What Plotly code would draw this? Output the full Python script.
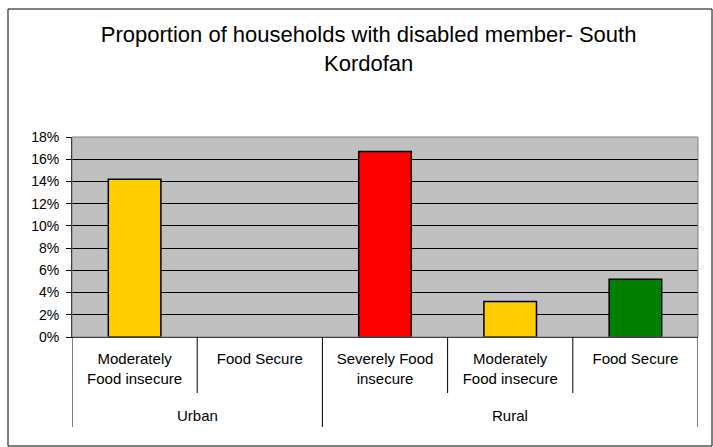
import plotly.graph_objects as go

# Survey results: share of households with a disabled member
areas = ["Urban", "Urban", "Rural", "Rural", "Rural"]
food_status = [
    "Moderately<br>Food insecure",
    "Food Secure",
    "Severely Food<br>insecure",
    "Moderately<br>Food insecure",
    "Food Secure",
]
share_disabled = [0.142, None, 0.167, 0.032, 0.052]
bar_colors = ["#FFCC00", "#FFCC00", "#FF0000", "#FFCC00", "#008000"]
y_ticks = [0, 0.02, 0.04, 0.06, 0.08, 0.10, 0.12, 0.14, 0.16, 0.18]
title_text = "Proportion of households with disabled member- South<br>Kordofan"

FONT = "Liberation Sans, Arial, sans-serif"
positions = list(range(len(food_status)))

fig = go.Figure(
    go.Bar(
        x=positions,
        y=share_disabled,
        marker=dict(color=bar_colors, line=dict(color="#000000", width=1.5)),
        width=0.42,
    )
)

fig.update_layout(
    width=713,
    height=447,
    margin=dict(l=72, r=15, t=137, b=110),
    paper_bgcolor="#FFFFFF",
    plot_bgcolor="#C0C0C0",
    showlegend=False,
    font=dict(family=FONT, size=14, color="#000000"),
    title=dict(
        text=title_text,
        font=dict(family=FONT, size=22, color="#000000"),
        x=0.517, xanchor="center",
        y=0.905, yanchor="top",
    ),
)

fig.update_yaxes(
    range=[0, 0.18],
    tickvals=y_ticks,
    tickformat=".0%",
    showgrid=True,
    gridcolor="#000000",
    gridwidth=1,
    showline=True,
    linecolor="#000000",
    linewidth=1,
    ticks="outside",
    ticklen=5,
    tickcolor="#000000",
    ticklabelstandoff=4,
    tickfont=dict(size=14),
    zeroline=False,
    fixedrange=True,
)

fig.update_xaxes(
    range=[-0.5, len(food_status) - 0.5],
    tickvals=positions,
    ticktext=food_status,
    tickfont=dict(size=15),
    ticks="",
    ticklabelstandoff=8,
    showline=True,
    linecolor="#000000",
    linewidth=1,
    showgrid=False,
    zeroline=False,
    fixedrange=True,
)

# grey frame around the plotting area
fig.add_shape(
    type="rect", xref="paper", yref="paper", x0=0, x1=1, y0=0, y1=1,
    line=dict(color="#808080", width=1), layer="above",
)

# category dividers below the axis: short between items, long at group edges
n = len(areas)
for b in range(n + 1):
    edge = b == 0 or b == n or areas[b - 1] != areas[b]
    fig.add_shape(
        type="line", xref="x", yref="paper",
        x0=b - 0.5, x1=b - 0.5, y0=0, y1=-0.45 if edge else -0.28,
        line=dict(color="#000000", width=1),
    )

# group labels centred under their items
for grp in dict.fromkeys(areas):
    idx = [i for i, a in enumerate(areas) if a == grp]
    fig.add_annotation(
        text=grp, xref="x", yref="paper",
        x=sum(idx) / len(idx), y=-0.39,
        showarrow=False, font=dict(family=FONT, size=15, color="#000000"),
        xanchor="center", yanchor="middle",
    )

# outer chart border
fig.add_shape(
    type="rect", xref="paper", yref="paper",
    x0=(8 - 72) / 626, x1=(712 - 72) / 626, y0=(337 - 446) / 200, y1=(337 - 9) / 200,
    line=dict(color="#000000", width=1),
)

fig.write_html("out.html")
